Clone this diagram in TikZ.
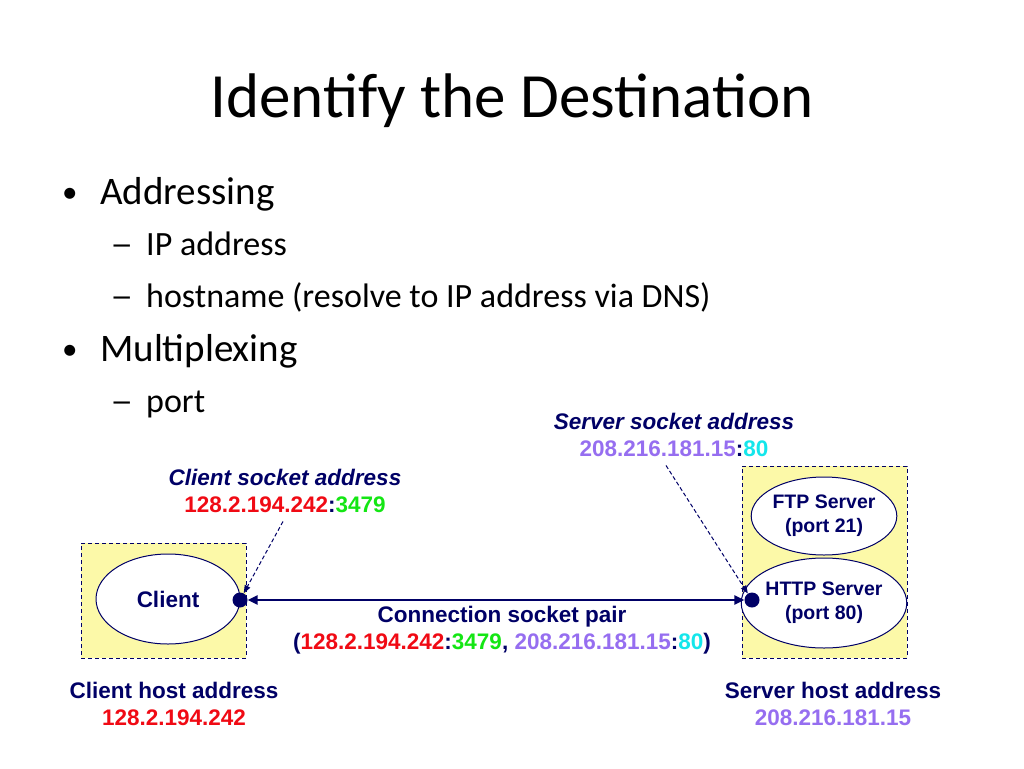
\documentclass[tikz,border=0pt]{standalone}
\usepackage{fontspec}
\setmainfont{Carlito}
\newfontfamily\arialfont{Liberation Sans}
\usetikzlibrary{shapes.geometric,arrows.meta}

\definecolor{navy}{RGB}{0,0,102}
\definecolor{ipred}{RGB}{240,10,20}
\definecolor{portgreen}{RGB}{20,230,20}
\definecolor{srvpurple}{RGB}{150,110,240}
\definecolor{srvcyan}{RGB}{20,230,235}
\definecolor{hostyellow}{RGB}{252,249,168}

\tikzset{
  lbl/.style={font=\arialfont\bfseries\fontsize{22.5}{27}\selectfont, text=navy, align=center, inner sep=0pt},
  hostbox/.style={draw=navy, dash pattern=on 4pt off 3pt, fill=hostyellow, line width=1pt, inner sep=0pt},
  proc/.style={ellipse, draw=navy, fill=white, line width=1pt, inner sep=0pt, minimum width=144pt, minimum height=90pt, text=navy, align=center},
  sockdot/.style={circle, fill=navy, minimum size=15pt, inner sep=0pt},
  pointer/.style={navy, line width=1pt, dash pattern=on 4pt off 2.5pt, -{Triangle[length=8pt,width=6pt]}},
  slide/.style={anchor=base west, inner sep=0pt},
  big/.style={font=\fontsize{39}{45}\selectfont},
  small/.style={font=\fontsize{34}{40}\selectfont},
  bulletdot/.style={font=\fontsize{31}{40}\selectfont},
  subdash/.style={font=\fontsize{34}{40}\selectfont, xscale=1.35},
}

\begin{document}
\begin{tikzpicture}[x=1pt,y=-1pt]
  \useasboundingbox (0,0) rectangle (1024,768);

  % slide text
  \node[anchor=base, inner sep=0pt, font=\fontsize{63}{70}\selectfont] (title) at (512,117) {Identify the Destination};

  \node[slide,bulletdot] (b1) at (62,202) {•};
  \node[slide,big] (addr) at (100,204) {Addressing};
  \node[slide,subdash] (d1) at (110,255) {–};
  \node[slide,small] (ip) at (146,255) {IP address};
  \node[slide,subdash] (d2) at (110,307) {–};
  \node[slide,small] (hostname) at (146,307) {hostname (resolve to IP address via DNS)};
  \node[slide,bulletdot] (b2) at (62,359) {•};
  \node[slide,big] (mux) at (100,361) {Multiplexing};
  \node[slide,subdash] (d3) at (110,412) {–};
  \node[slide,small] (port) at (146,412) {port};

  % hosts
  \node[hostbox, minimum width=165pt, minimum height=115pt] (chost) at (163.5,600.5) {};
  \node[hostbox, minimum width=165pt, minimum height=192pt] (shost) at (824.5,562) {};

  \node[proc, font=\arialfont\bfseries\fontsize{22.5}{27}\selectfont] (client) at (168,599) {Client};
  \node[proc, minimum height=78pt, font=\arialfont\bfseries\fontsize{19.5}{24}\selectfont] (ftp) at (824,516) {FTP Server\\(port 21)};
  \node[proc, font=\arialfont\bfseries\fontsize{19.5}{24}\selectfont] (http) at (824,603) {HTTP Server\\(port 80)};

  \node[sockdot] (cdot) at (240,600) {};
  \node[sockdot] (sdot) at (752,600) {};

  % connection
  \draw[navy, line width=2.5pt, {Triangle[length=10pt,width=9pt]}-{Triangle[length=10pt,width=9pt]}] (cdot) -- (sdot);

  % labels
  \node[lbl] (csock) at (285,490.5) {\textit{Client socket address}\\\textcolor{ipred}{128.2.194.242}:\textcolor{portgreen}{3479}};
  \node[lbl] (ssock) at (674,434.5) {\textit{Server socket address}\\\textcolor{srvpurple}{208.216.181.15}:\textcolor{srvcyan}{80}};
  \node[lbl] (pair) at (502,630) {Connection socket pair\\(\textcolor{ipred}{128.2.194.242}:\textcolor{portgreen}{3479}, \textcolor{srvpurple}{208.216.181.15}:\textcolor{srvcyan}{80})};
  \node[lbl] (caddr) at (174,703.5) {Client host address\\\textcolor{ipred}{128.2.194.242}};
  \node[lbl] (saddr) at (833,703.5) {Server host address\\\textcolor{srvpurple}{208.216.181.15}};

  \coordinate (cfrom) at ([xshift=-2pt,yshift=-9pt]csock.south);
  \coordinate (sfrom) at ([xshift=-8pt,yshift=-9pt]ssock.south);
  \draw[pointer] (cfrom) -- (cdot);
  \draw[pointer] (sfrom) -- (sdot);
\end{tikzpicture}
\end{document}
